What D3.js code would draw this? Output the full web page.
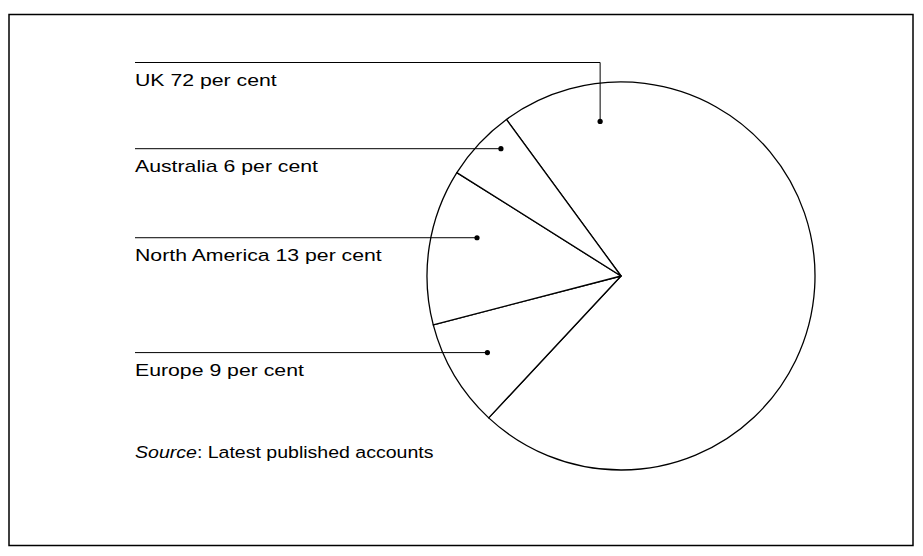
<!DOCTYPE html>
<html>
<head>
<meta charset="utf-8">
<script src="https://cdn.jsdelivr.net/npm/d3@7"></script>
<style>
  body { margin: 0; background: #fff; }
  text { font-family: "Liberation Sans", Arial, sans-serif; font-size: 17px; fill: #000; }
</style>
</head>
<body>
<div id="chart"></div>
<script>
// Data: share of business by region (per cent), in clockwise pie order
const regions = ["UK", "Europe", "North America", "Australia"];
const shares = [72, 9, 13, 6];
const sourceText = "Latest published accounts";

// Layout: where each leader dot sits inside its slice (fraction of slice angle, radius in px)
// and the y of the label row
const anchorFrac = [0.11, 0.53, 0.63, 0.67];
const anchorRadius = [156, 154, 149, 175];
const labelRowY = [62.5, 352, 238, 149];

const W = 923, H = 556;
const cx = 621, cy = 276, radius = 194;
const labelX = 135;
const textStretch = 1.25; // the original type is set wide
const sourceStretch = 1.15;

const svg = d3.select("#chart")
  .append("svg")
  .attr("width", W)
  .attr("height", H);

// Frame
svg.append("rect")
  .attr("x", 9).attr("y", 14.5)
  .attr("width", 904).attr("height", 531)
  .attr("fill", "none")
  .attr("stroke", "#000")
  .attr("stroke-width", 1.5);

const startAngle = -36.2 * Math.PI / 180;
const pie = d3.pie()
  .sort(null)
  .startAngle(startAngle)
  .endAngle(startAngle + 2 * Math.PI);

const arcs = pie(shares);
const arc = d3.arc().innerRadius(0).outerRadius(radius);

const g = svg.append("g").attr("transform", `translate(${cx},${cy})`);

g.selectAll("path")
  .data(arcs)
  .enter()
  .append("path")
  .attr("d", arc)
  .attr("fill", "#fff")
  .attr("stroke", "#000")
  .attr("stroke-width", 1.3)
  .attr("stroke-linejoin", "round");

// Leader lines, dots and labels
arcs.forEach((a, i) => {
  const ang = a.startAngle + anchorFrac[i] * (a.endAngle - a.startAngle);
  const dx = cx + anchorRadius[i] * Math.sin(ang);
  const dy = cy - anchorRadius[i] * Math.cos(ang);
  const rowY = labelRowY[i];

  let pts;
  if (Math.abs(rowY - dy) > 3) {
    pts = [[labelX, rowY], [dx, rowY], [dx, dy]];
  } else {
    pts = [[labelX, dy], [dx, dy]];
  }

  svg.append("path")
    .attr("d", d3.line()(pts))
    .attr("fill", "none")
    .attr("stroke", "#000")
    .attr("stroke-width", 1);

  svg.append("circle")
    .attr("cx", dx)
    .attr("cy", dy)
    .attr("r", 2.6)
    .attr("fill", "#000");

  svg.append("text")
    .attr("transform", `translate(${labelX},${pts[0][1] + 23}) scale(${textStretch},1)`)
    .text(`${regions[i]} ${shares[i]} per cent`);
});

// Source note
const src = svg.append("text")
  .attr("transform", `translate(${labelX},458) scale(${sourceStretch},1)`);
src.append("tspan").style("font-style", "italic").text("Source");
src.append("tspan").text(`: ${sourceText}`);
</script>
</body>
</html>
